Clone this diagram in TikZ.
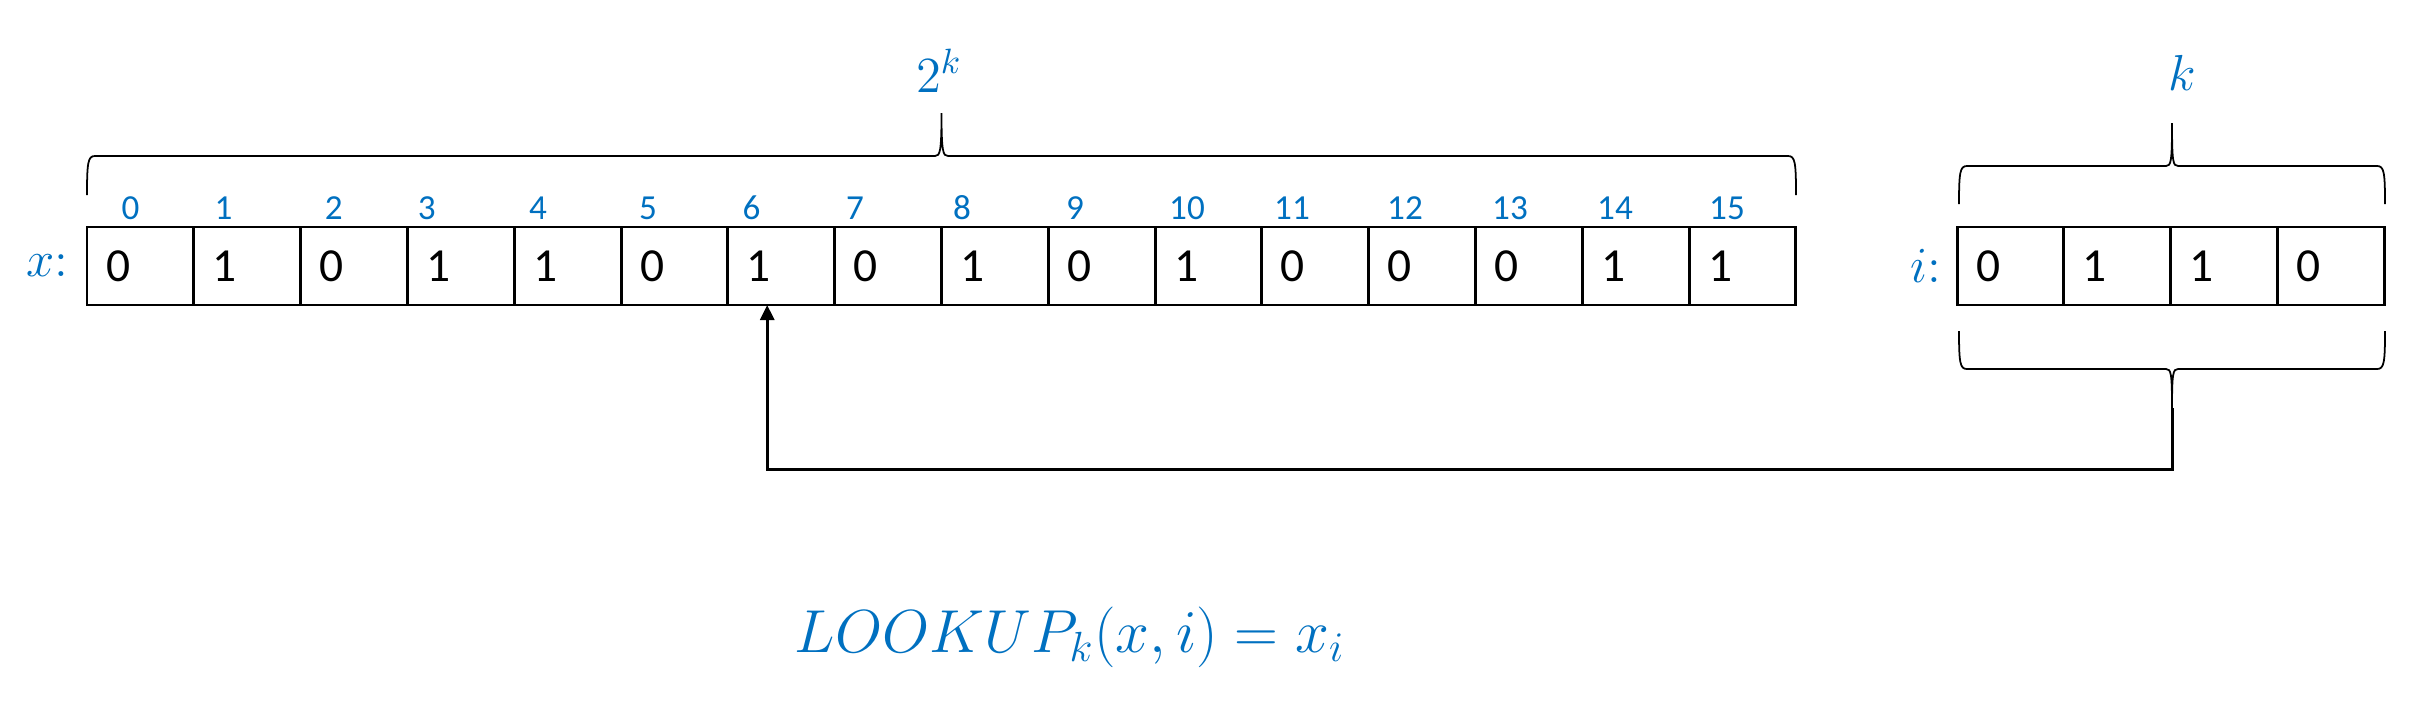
\documentclass[tikz,border=0pt]{standalone}
\usepackage{fontspec}
\setmainfont{Carlito}
\usepackage{xcolor}
\usepackage{tikz}
\usetikzlibrary{positioning, arrows.meta}

\definecolor{msblue}{RGB}{0,112,192}

\tikzset{
  bit/.style={draw, line width=0.85pt, minimum height=0.78cm, inner ysep=0pt, outer sep=0pt, align=left,
    text width=0.688cm, inner xsep=0.19cm, font=\fontsize{13.5}{16}\selectfont},
  idx/.style={text=msblue, inner sep=0pt, font=\fontsize{10}{12}\selectfont},
  var/.style={text=msblue, inner sep=0pt, font=\fontsize{15}{18}\selectfont},
  brace/.style={line width=0.5pt},
}

\begin{document}
\begin{tikzpicture}
    \useasboundingbox (0,0) rectangle (24.13,7.12);

        % the string x
        \node[bit] (x0) at (1.404,4.46) {0};
        \node[bit, right=0pt of x0] (x1) {1};
        \node[bit, right=0pt of x1] (x2) {0};
        \node[bit, right=0pt of x2] (x3) {1};
        \node[bit, right=0pt of x3] (x4) {1};
        \node[bit, right=0pt of x4] (x5) {0};
        \node[bit, right=0pt of x5] (x6) {1};
        \node[bit, right=0pt of x6] (x7) {0};
        \node[bit, right=0pt of x7] (x8) {1};
        \node[bit, right=0pt of x8] (x9) {0};
        \node[bit, right=0pt of x9] (x10) {1};
        \node[bit, right=0pt of x10] (x11) {0};
        \node[bit, right=0pt of x11] (x12) {0};
        \node[bit, right=0pt of x12] (x13) {0};
        \node[bit, right=0pt of x13] (x14) {1};
        \node[bit, right=0pt of x14] (x15) {1};
        \node[var, left=0.18cm of x0] (xname) {$x{:}$};

        % the index i
        \node[bit] (i0) at (20.105,4.46) {0};
        \node[bit, right=0pt of i0] (i1) {1};
        \node[bit, right=0pt of i1] (i2) {1};
        \node[bit, right=0pt of i2] (i3) {0};
        \node[var, left=0.15cm of i0] (iname) {$i{:}$};

        % positions
        \node[idx] (n0) at (1.305,5.04) {0};
        \node[idx] (n1) at (2.235,5.04) {1};
        \node[idx] (n2) at (3.337,5.04) {2};
        \node[idx] (n3) at (4.267,5.04) {3};
        \node[idx] (n4) at (5.38,5.04) {4};
        \node[idx] (n5) at (6.48,5.04) {5};
        \node[idx] (n6) at (7.516,5.04) {6};
        \node[idx] (n7) at (8.55,5.04) {7};
        \node[idx] (n8) at (9.62,5.04) {8};
        \node[idx] (n9) at (10.75,5.04) {9};
        \node[idx] (n10) at (11.87,5.04) {10};
        \node[idx] (n11) at (12.92,5.04) {11};
        \node[idx] (n12) at (14.05,5.04) {12};
        \node[idx] (n13) at (15.10,5.04) {13};
        \node[idx] (n14) at (16.15,5.04) {14};
        \node[idx] (n15) at (17.27,5.04) {15};

        % braces
        \draw[brace] (0.87,5.17) .. controls (0.87,5.50) and (0.88,5.56) .. (0.95,5.56) -- (9.35,5.56)
            .. controls (9.40,5.56) and (9.415,5.60) .. (9.415,5.99)
            .. controls (9.415,5.60) and (9.43,5.56) .. (9.48,5.56) -- (17.88,5.56)
            .. controls (17.95,5.56) and (17.96,5.50) .. (17.96,5.17);
        \draw[brace] (19.59,5.08) .. controls (19.59,5.40) and (19.60,5.46) .. (19.67,5.46) -- (21.66,5.46)
            .. controls (21.71,5.46) and (21.72,5.50) .. (21.72,5.89)
            .. controls (21.72,5.50) and (21.73,5.46) .. (21.78,5.46) -- (23.77,5.46)
            .. controls (23.84,5.46) and (23.85,5.40) .. (23.85,5.08);
        \draw[brace] (19.59,3.81) .. controls (19.59,3.49) and (19.60,3.43) .. (19.67,3.43) -- (21.66,3.43)
            .. controls (21.71,3.43) and (21.72,3.39) .. (21.72,3.04)
            .. controls (21.72,3.39) and (21.73,3.43) .. (21.78,3.43) -- (23.77,3.43)
            .. controls (23.84,3.43) and (23.85,3.49) .. (23.85,3.81);
        \coordinate (itip) at (21.72,3.04);

        \node[var, font=\fontsize{14}{17}\selectfont, anchor=base] (twok) at (9.39,6.20) {$2^k$};
        \node[var, font=\fontsize{14}{17}\selectfont, anchor=base] (kk) at (21.82,6.22) {$k$};

        % lookup arrow
        \draw[line width=0.85pt, -{Triangle[length=0.15cm, width=0.14cm]}] (itip) -- ++(0,-0.61) -| ([xshift=-0.14cm]x6.south);

        \node[var, font=\fontsize{17.5}{21}\selectfont, anchor=base] (lookup) at (10.70,0.60) {$LOOKUP_k(x,i) = x_i$};
\end{tikzpicture}
\end{document}
